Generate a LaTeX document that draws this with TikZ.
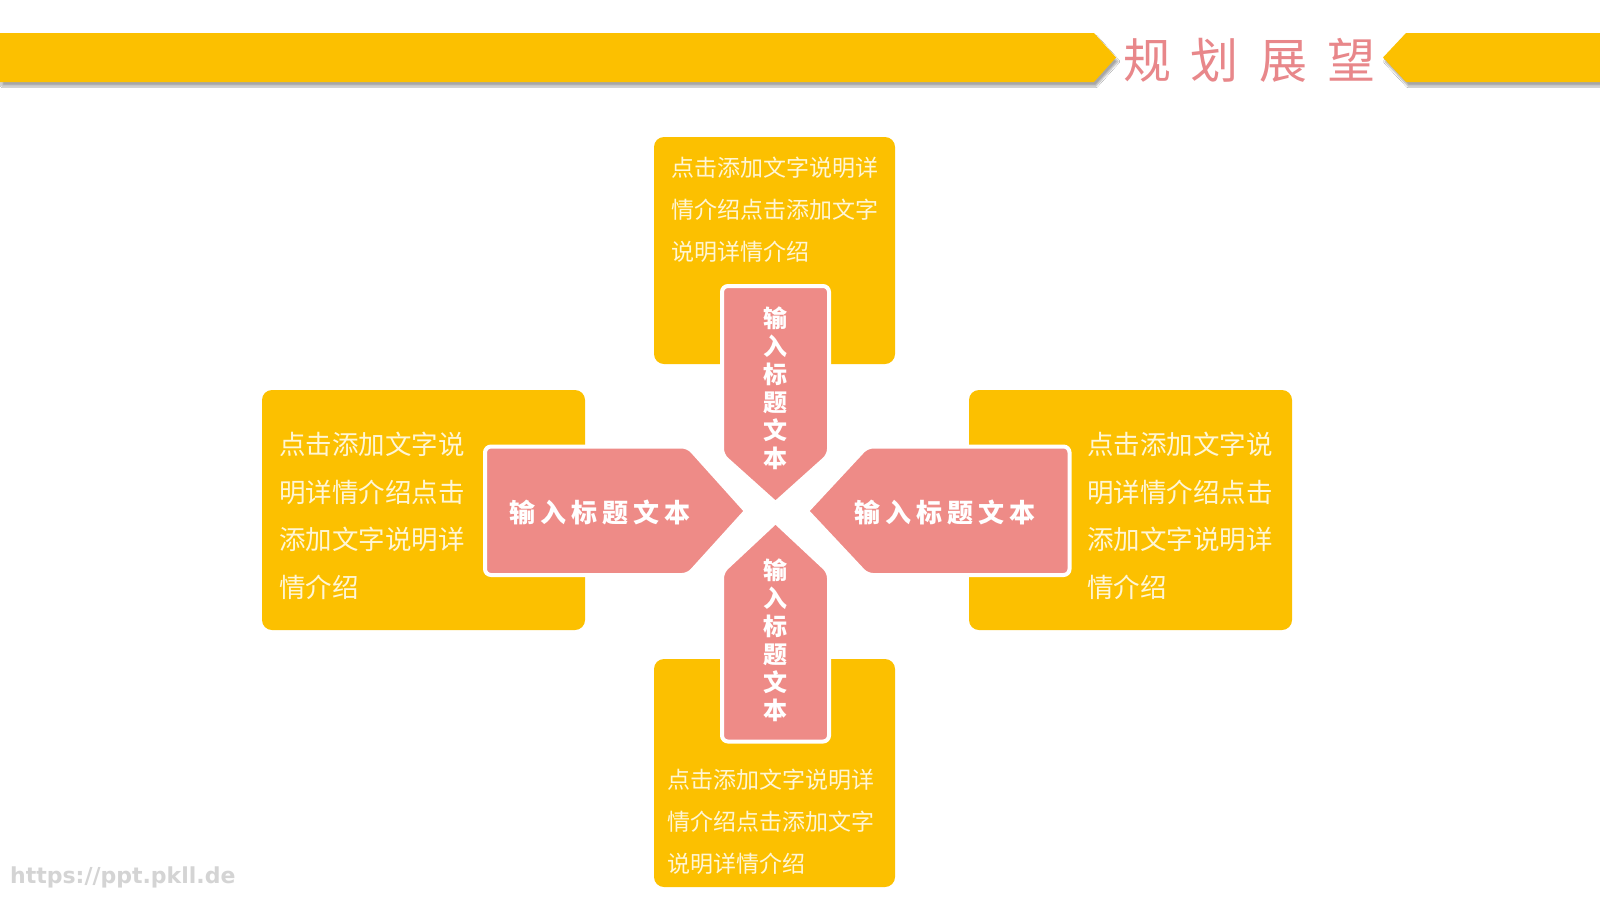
\documentclass[tikz,border=0pt]{standalone}
\usepackage{fontspec}
\usetikzlibrary{shadows.blur}
\newfontfamily\cjk{Noto Sans CJK SC}
\newfontfamily\wmfont{DejaVu Sans}
\definecolor{gold}{HTML}{FCC000}
\definecolor{rose}{HTML}{EE8B87}
\definecolor{cream}{HTML}{FFF6D5}
\definecolor{titlepink}{HTML}{E8878A}
\definecolor{wmgray}{HTML}{D4D4D4}
\tikzset{
  banner/.style={fill=gold, blur shadow={shadow xshift=2pt, shadow yshift=-4pt, shadow opacity=35, shadow blur steps=6}},
  goldbox/.style={fill=gold, rounded corners=10pt},
  arrowshape/.style={fill=rose, draw=white, line width=4pt, line join=miter},
  bodytext/.style={text=cream, align=left, inner sep=0pt, anchor=west},
  smallbody/.style={bodytext, font=\cjk\fontsize{23}{42}\selectfont},
  largebody/.style={bodytext, font=\cjk\fontsize{26.5}{47.5}\selectfont},
  headh/.style={text=white, inner sep=0pt, font=\cjk\bfseries\fontsize{26}{26}\selectfont},
  headv/.style={text=white, inner sep=0pt, align=center, font=\cjk\bfseries\fontsize{24}{28}\selectfont},
}
\begin{document}
\begin{tikzpicture}[x=1pt,y=-1pt]
\useasboundingbox (0,0) rectangle (1600,900);
\fill[white] (0,0) rectangle (1600,900);

% top banner
\path[banner] (0,33) -- (1094,33) -- (1116,57.5) -- (1094,82) -- (0,82) -- cycle;
\path[banner] (1600,33) -- (1406,33) -- (1383,57.5) -- (1406,82) -- (1600,82) -- cycle;
\node[text=titlepink, inner sep=0pt, font=\cjk\fontsize{48}{48}\selectfont] (title) at (1249,60)
  {规\hspace{20pt}划\hspace{20pt}展\hspace{20pt}望};

% yellow boxes
\path[goldbox] (654,137) rectangle (895,364);
\path[goldbox] (654,659) rectangle (895,887);
\path[goldbox] (262,390) rectangle (585,630);
\path[goldbox] (969,390) rectangle (1292,630);

% arrows
\draw[arrowshape] (746,511) [rounded corners=6pt] -- (688,575) -- (485,575) -- (485,446.5) -- (688,446.5) -- (746,511);
\draw[arrowshape] (807,511) [rounded corners=6pt] -- (867,575) -- (1069.5,575) -- (1069.5,446.5) -- (867,446.5) -- (807,511);
\draw[arrowshape] (775.5,503) [rounded corners=6pt] -- (722,455) -- (722,286) -- (829,286) -- (829,455) -- (775.5,503);
\draw[arrowshape] (775.5,522) [rounded corners=6pt] -- (722,572) -- (722,741.5) -- (829,741.5) -- (829,572) -- (775.5,522);

% arrow labels
\node[headh] (lefthead) at (600,512) {输\hspace{5pt}入\hspace{5pt}标\hspace{5pt}题\hspace{5pt}文\hspace{5pt}本};
\node[headh] (righthead) at (945,512) {输\hspace{5pt}入\hspace{5pt}标\hspace{5pt}题\hspace{5pt}文\hspace{5pt}本};
\node[headv] (tophead) at (775.5,388) {输\\入\\标\\题\\文\\本};
\node[headv] (bottomhead) at (775.5,640) {输\\入\\标\\题\\文\\本};

% body texts
\node[smallbody] (toptext) at (671,210) {点击添加文字说明详\\情介绍点击添加文字\\说明详情介绍};
\node[smallbody] (bottomtext) at (667,822) {点击添加文字说明详\\情介绍点击添加文字\\说明详情介绍};
\node[largebody] (lefttext) at (279,516) {点击添加文字说\\明详情介绍点击\\添加文字说明详\\情介绍};
\node[largebody] (righttext) at (1087,516) {点击添加文字说\\明详情介绍点击\\添加文字说明详\\情介绍};

% watermark
\node[text=wmgray, inner sep=0pt, anchor=west, font=\wmfont\bfseries\fontsize{22}{22}\selectfont] (wm) at (10,877) {https://ppt.pkll.de};
\end{tikzpicture}
\end{document}
